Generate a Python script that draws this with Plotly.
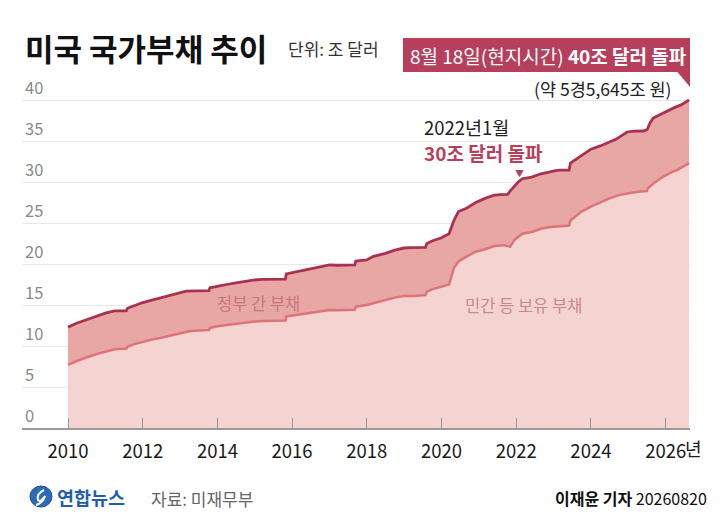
import plotly.graph_objects as go

FONT = "Noto Sans CJK KR"

# Total public debt (trillion USD)
total_dates = ["2010-01-01","2010-04-01","2010-07-01","2010-10-01","2011-01-01","2011-04-01","2011-07-25","2011-08-05",
               "2011-10-01","2012-01-01","2012-04-01","2012-07-01","2012-10-01","2013-01-01","2013-03-01","2013-06-01",
               "2013-10-10","2013-10-20","2014-01-01","2014-04-01","2014-07-01","2014-10-01","2015-01-01","2015-03-15",
               "2015-06-01","2015-10-28","2015-11-05","2016-01-01","2016-04-01","2016-07-01","2016-10-01","2017-01-01",
               "2017-03-15","2017-06-01","2017-09-05","2017-09-15","2018-01-01","2018-03-01","2018-07-01","2018-10-01",
               "2019-01-01","2019-03-01","2019-07-28","2019-08-10","2019-10-01","2020-01-01","2020-03-15","2020-05-01",
               "2020-06-15","2020-09-01","2020-12-01","2021-03-01","2021-06-01","2021-08-01","2021-10-10","2021-11-01",
               "2021-12-20","2022-01-20","2022-03-01","2022-06-01","2022-09-01","2022-12-01","2023-01-20","2023-03-01",
               "2023-06-02","2023-06-15","2023-10-01","2024-01-01","2024-04-01","2024-07-01","2024-09-01","2024-12-20",
               "2025-03-01","2025-06-01","2025-07-05","2025-08-01","2025-09-01","2025-10-01","2026-01-01","2026-04-01",
               "2026-06-01","2026-08-18"]
total_debt = [12.3, 12.8, 13.2, 13.6, 14.0, 14.29, 14.29, 14.6,
              14.9, 15.3, 15.6, 15.9, 16.2, 16.43, 16.7, 16.72,
              16.74, 17.1, 17.3, 17.5, 17.7, 17.9, 18.05, 18.13,
              18.13, 18.15, 18.8, 18.95, 19.2, 19.4, 19.7, 19.9,
              19.85, 19.87, 19.88, 20.35, 20.5, 20.9, 21.3, 21.7,
              21.95, 22.0, 22.03, 22.5, 22.8, 23.2, 23.7, 25.3,
              26.4, 26.8, 27.5, 28.0, 28.4, 28.45, 28.5, 28.9,
              29.6, 30.0, 30.4, 30.6, 31.0, 31.3, 31.4, 31.45,
              31.46, 32.3, 33.2, 34.0, 34.4, 34.9, 35.2, 36.1,
              36.2, 36.22, 36.4, 37.2, 37.8, 38.0, 38.6, 39.1,
              39.4, 40.0]

# Debt held by the public (trillion USD)
public_dates = ["2010-01-01","2010-04-01","2010-07-01","2010-10-01","2011-01-01","2011-04-01","2011-07-25","2011-08-05",
                "2011-10-01","2012-01-01","2012-04-01","2012-07-01","2012-10-01","2013-01-01","2013-04-01","2013-07-01",
                "2013-10-10","2013-10-20","2014-01-01","2014-04-01","2014-07-01","2014-10-01","2015-01-01","2015-04-01",
                "2015-07-01","2015-10-28","2015-11-05","2016-01-01","2016-04-01","2016-07-01","2016-10-01","2017-01-01",
                "2017-04-01","2017-07-01","2017-09-05","2017-09-15","2018-01-01","2018-04-01","2018-07-01","2018-10-01",
                "2019-01-01","2019-04-01","2019-07-28","2019-08-10","2019-10-01","2020-01-01","2020-03-15","2020-05-01",
                "2020-06-15","2020-09-01","2020-12-01","2021-03-01","2021-06-01","2021-09-01","2021-11-01","2021-12-20",
                "2022-01-20","2022-03-01","2022-06-01","2022-09-01","2022-12-01","2023-03-01","2023-06-02","2023-06-15",
                "2023-10-01","2024-01-01","2024-04-01","2024-07-01","2024-10-01","2025-01-01","2025-04-01","2025-07-01",
                "2025-07-10","2025-09-01","2025-12-01","2026-03-01","2026-05-01","2026-08-18"]
public_debt = [7.7, 8.2, 8.6, 9.0, 9.3, 9.6, 9.7, 9.9,
               10.2, 10.5, 10.8, 11.0, 11.3, 11.6, 11.8, 11.9,
               11.95, 12.2, 12.4, 12.55, 12.7, 12.9, 13.0, 13.05,
               13.1, 13.12, 13.6, 13.7, 13.9, 14.0, 14.2, 14.4,
               14.35, 14.4, 14.42, 14.8, 15.0, 15.3, 15.6, 15.9,
               16.1, 16.1, 16.2, 16.6, 16.9, 17.2, 17.5, 19.5,
               20.3, 20.9, 21.5, 21.8, 22.2, 22.3, 22.1, 23.0,
               23.3, 23.7, 23.9, 24.3, 24.5, 24.6, 24.7, 25.3,
               26.4, 27.0, 27.5, 28.0, 28.4, 28.6, 28.8, 28.9,
               29.2, 29.8, 30.6, 31.2, 31.5, 32.3]

year_tickvals = ["2010-01-01","2012-01-01","2014-01-01","2016-01-01","2018-01-01",
                 "2020-01-01","2022-01-01","2024-01-01","2026-01-01"]
year_ticktext = ["2010","2012","2014","2016","2018","2020","2022","2024","2026"]
y_tickvals = [0, 5, 10, 15, 20, 25, 30, 35, 40]

W, H = 720, 523
ML, MR, MT, MB = 22, 30, 60, 95
PW = W - ML - MR
PH = H - MT - MB
Y_TOP = PH / 8.2  # 8.2 px per trillion

def px(x):
    return (x - ML) / PW

def py(y):
    return (H - MB - y) / PH

fig = go.Figure()
fig.add_trace(go.Scatter(
    x=public_dates, y=public_debt, mode="lines",
    line=dict(color="#dc7479", width=2.5),
    fill="tozeroy", fillcolor="#f4d3d1", hoverinfo="skip", showlegend=False))
fig.add_trace(go.Scatter(
    x=total_dates, y=total_debt, mode="lines",
    line=dict(color="#a8324f", width=2.8),
    fill="tonexty", fillcolor="#e8a7a5", hoverinfo="skip", showlegend=False))

crimson = "#b63f5c"
annotations = [
    dict(text="<b>미국 국가부채 추이</b>", x=px(23), y=py(47), xanchor="left", yanchor="middle",
         font=dict(size=31, color="#111", family=FONT)),
    dict(text="단위: 조 달러", x=px(286), y=py(49), xanchor="left", yanchor="middle",
         font=dict(size=17, color="#333", family=FONT)),
    dict(text="8월 18일(현지시간) <b>40조 달러 돌파</b>", x=px(548), y=py(55), xanchor="center", yanchor="middle",
         font=dict(size=19, color="#ffffff", family=FONT)),
    dict(text="(약 5경5,645조 원)", x=px(674), y=py(89), xanchor="right", yanchor="middle",
         font=dict(size=17.5, color="#222", family=FONT)),
    dict(text="2022년1월", x=px(422), y=py(127), xanchor="left", yanchor="middle",
         font=dict(size=18.5, color="#222", family=FONT)),
    dict(text="<b>30조 달러 돌파</b>", x=px(422), y=py(152), xanchor="left", yanchor="middle",
         font=dict(size=19, color=crimson, family=FONT)),
    dict(text="▼", x="2022-02-01", xref="x", y=py(173), xanchor="center", yanchor="middle",
         font=dict(size=9, color=crimson, family=FONT)),
    dict(text="정부 간 부채", x=px(258), y=py(303), xanchor="center", yanchor="middle",
         font=dict(size=16.5, color="#c7767c", family=FONT)),
    dict(text="민간 등 보유 부채", x=px(523), y=py(305), xanchor="center", yanchor="middle",
         font=dict(size=16.5, color="#c98a8f", family=FONT)),
    dict(text="년", x="2026-01-01", xref="x", y=py(448), xanchor="left", yanchor="middle", xshift=17,
         font=dict(size=18, color="#1a1a1a", family=FONT)),
    dict(text="<b>연합뉴스</b>", x=px(55), y=py(497), xanchor="left", yanchor="middle",
         font=dict(size=18.5, color="#1d5fae", family=FONT)),
    dict(text="자료: 미재무부", x=px(149), y=py(498), xanchor="left", yanchor="middle",
         font=dict(size=17, color="#666", family=FONT)),
    dict(text="<b>이재윤 기자</b> 20260820", x=px(709), y=py(498), xanchor="right", yanchor="middle",
         font=dict(size=16, color="#111", family=FONT)),
]
for a in annotations:
    a.setdefault("xref", "paper")
    a.setdefault("yref", "paper")
    a["showarrow"] = False

shapes = [
    dict(type="rect", xref="paper", yref="paper", x0=px(403), x1=px(690), y0=py(72), y1=py(38),
         fillcolor=crimson, line=dict(width=0), layer="above"),
    dict(type="path", xref="paper", yref="paper",
         path=f"M {px(677)},{py(71.5)} L {px(690)},{py(71.5)} L {px(690)},{py(87)} Z",
         fillcolor=crimson, line=dict(width=0)),
    dict(type="circle", xref="paper", yref="paper", x0=px(30), x1=px(52), y0=py(507), y1=py(486),
         fillcolor="#2b6cb8", line=dict(color="#1d4f94", width=1)),
    dict(type="path", xref="paper", yref="paper",
         path=f"M {px(44)},{py(490)} Q {px(36)},{py(494)} {px(38)},{py(500)} Q {px(40)},{py(503)} {px(45)},{py(496)} "
              f"Q {px(43)},{py(503)} {px(36)},{py(505)}",
         line=dict(color="#ffffff", width=2)),
]

fig.update_layout(
    width=W, height=H,
    margin=dict(l=ML, r=MR, t=MT, b=MB),
    paper_bgcolor="#ffffff", plot_bgcolor="#ffffff",
    font=dict(family=FONT),
    annotations=annotations, shapes=shapes,
    xaxis=dict(
        type="date", range=["2008-10-08", "2026-08-27"],
        tickvals=year_tickvals, ticktext=year_ticktext,
        ticks="inside", ticklen=10, tickcolor="#9a9a9a", tickwidth=1,
        showgrid=False, showline=True, linecolor="#9a9a9a", linewidth=1.5,
        tickfont=dict(size=18.5, color="#1a1a1a", family=FONT),
        ticklabelstandoff=6, zeroline=False, fixedrange=True,
    ),
    yaxis=dict(
        range=[0, Y_TOP], tickvals=y_tickvals,
        ticklabelposition="inside top",
        showgrid=True, gridcolor="#e8e8e8", gridwidth=1,
        zeroline=False, showline=False, ticks="",
        tickfont=dict(size=16.5, color="#8a8a8a", family=FONT),
        fixedrange=True,
    ),
)

fig.write_html("out.html", config={"displayModeBar": False},
               post_script="document.body.style.margin='0';")
